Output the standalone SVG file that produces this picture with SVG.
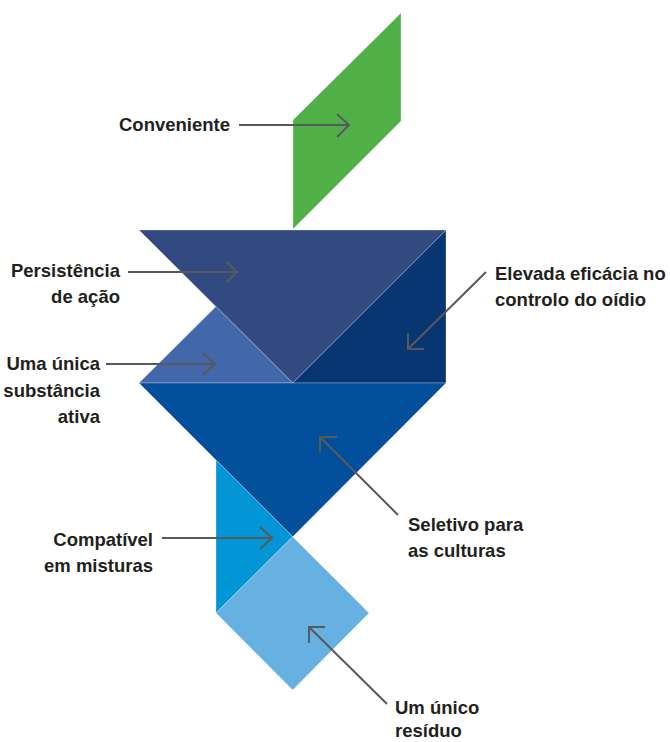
<svg xmlns="http://www.w3.org/2000/svg" width="670" height="742" viewBox="0 0 670 742">
<style>
.s{stroke:#ffffff;stroke-opacity:0.45;stroke-width:0.6;stroke-linejoin:miter}
.t{font-family:"Liberation Sans",Arial,sans-serif;font-weight:bold;font-size:18.5px;fill:#231f20}
.r{text-anchor:end}
.c{fill:none;stroke:#58595b;stroke-width:2}
</style>
<rect width="670" height="742" fill="#ffffff"/>
<g id="green-parallelogram"><polygon class="s" points="293,120 401,13 401,121 293,229" fill="#50b047"/></g>
<g id="top-triangle"><polygon class="s" points="139,230 446,230 292.7,383" fill="#324a80"/></g>
<g id="right-triangle"><polygon class="s" points="446,230 446,383 292.7,383" fill="#073672"/></g>
<g id="small-triangle"><polygon class="s" points="139,383 216,306.5 292.7,383" fill="#4268ab"/></g>
<g id="big-triangle"><polygon class="s" points="139,383 446,383 292.7,536.7" fill="#02509c"/></g>
<g id="cyan-triangle"><polygon class="s" points="216,460 292.7,536.7 216,613" fill="#0296d6"/></g>
<g id="square"><polygon class="s" points="292.7,536.7 369,613 292.7,690 216,613" fill="#67b1e2"/></g>
<g id="connectors">
<path class="c" d="M239,125 H349 M337,114 L349,125 L337,137"/>
<path class="c" d="M128,272 H237 M226,261 L237,272 L226,283"/>
<path class="c" d="M106,364 H215 M203,353 L215,364 L203,375"/>
<path class="c" d="M486,272 L408,349 M408,333 V349 H424"/>
<path class="c" d="M398,515 L320,437 M320,453 V437 H337"/>
<path class="c" d="M162,538 H272 M260,527 L272,538 L260,549"/>
<path class="c" d="M387,704 L309,627 M309,643 V627 H325"/>
</g>
<g id="label-conveniente"><text class="t r" x="230" y="131">Conveniente</text></g>
<g id="label-persistencia"><text class="t r" x="120" y="277">Persistência</text><text class="t r" x="120" y="303">de ação</text></g>
<g id="label-substancia"><text class="t r" x="100" y="370">Uma única</text><text class="t r" x="100" y="397">substância</text><text class="t r" x="100" y="423">ativa</text></g>
<g id="label-eficacia"><text class="t" x="495" y="280">Elevada eficácia no</text><text class="t" x="495" y="306">controlo do oídio</text></g>
<g id="label-seletivo"><text class="t" x="408" y="531">Seletivo para</text><text class="t" x="408" y="557">as culturas</text></g>
<g id="label-compativel"><text class="t r" x="153" y="546">Compatível</text><text class="t r" x="153" y="572">em misturas</text></g>
<g id="label-residuo"><text class="t" x="395" y="714">Um único</text><text class="t" x="395" y="737">resíduo</text></g>
</svg>
